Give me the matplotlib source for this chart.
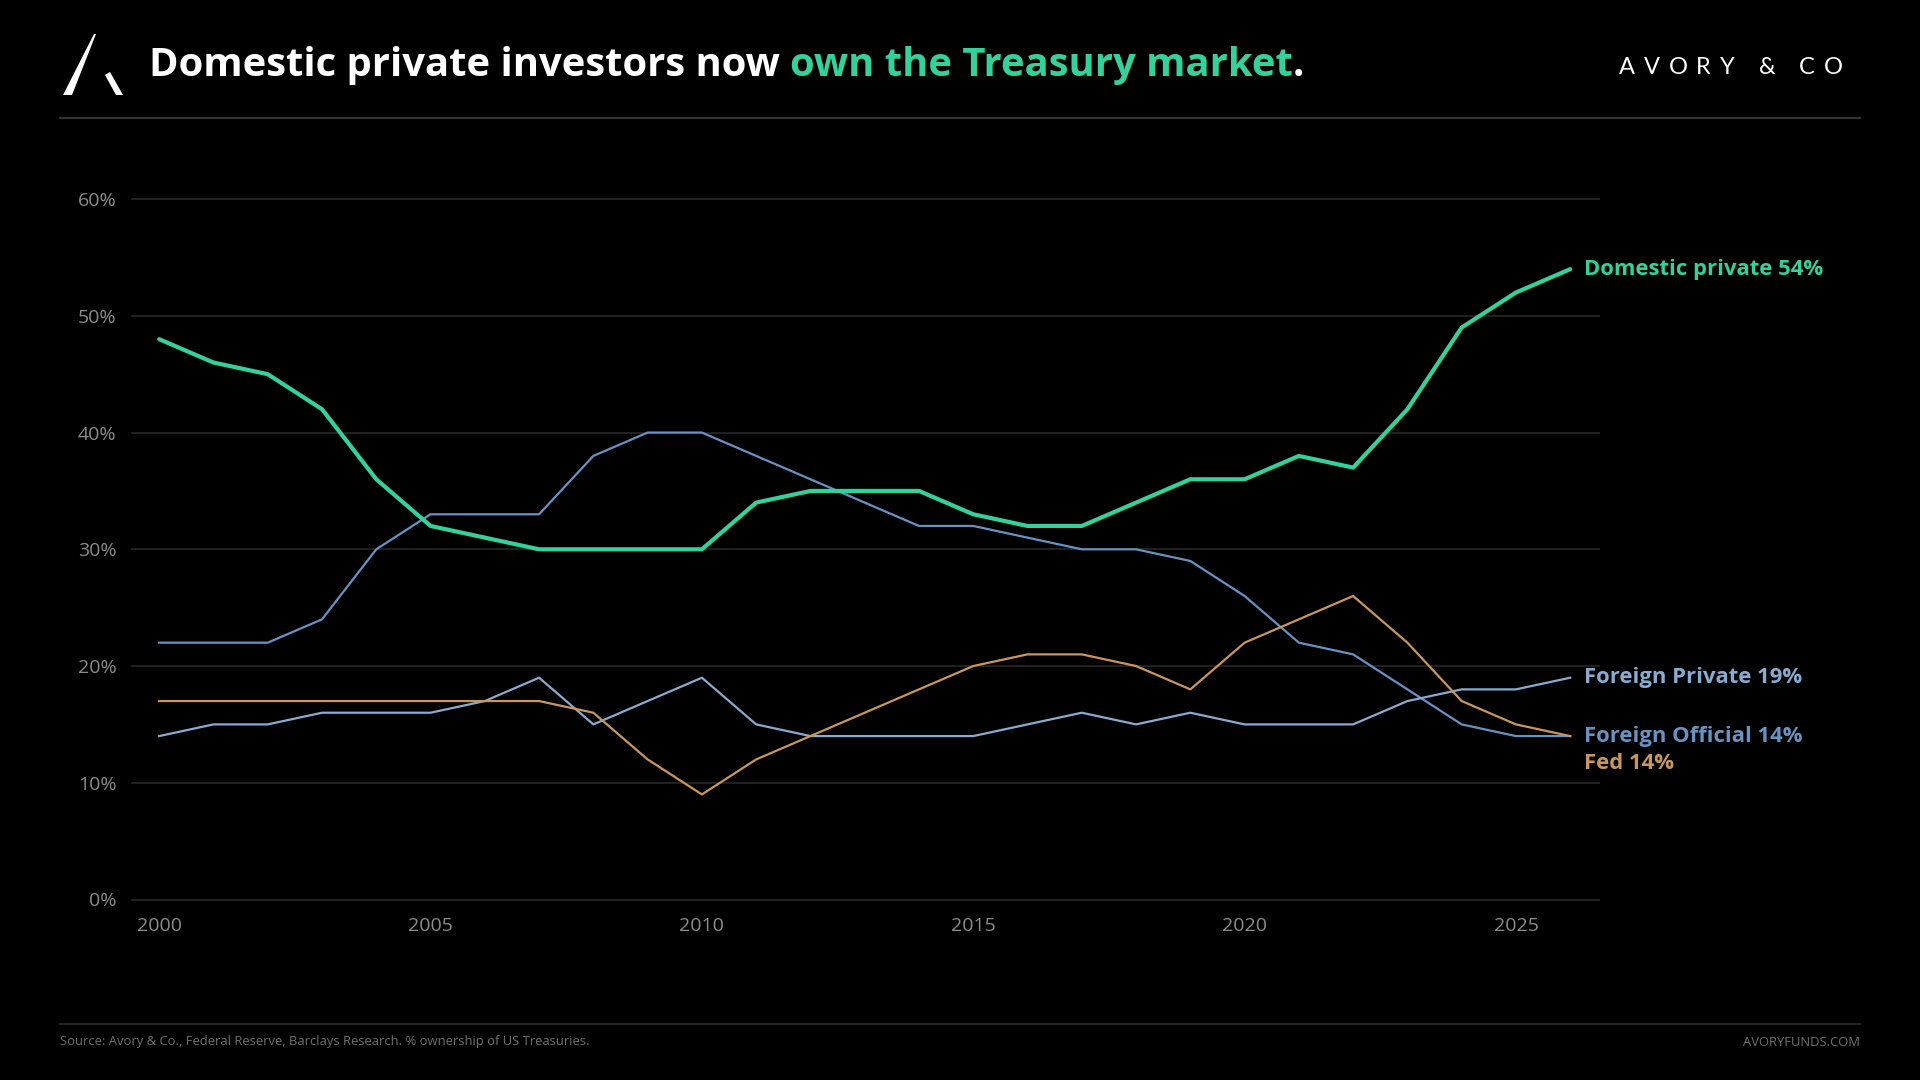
import matplotlib
matplotlib.use("Agg")
import matplotlib.pyplot as plt
from matplotlib.patches import Polygon
from matplotlib.lines import Line2D

# ---------------- data ----------------
years = list(range(2000, 2027))
domestic_private = [48, 46, 45, 42, 36, 32, 31, 30, 30, 30, 30, 34, 35, 35, 35, 33, 32, 32, 34, 36, 36, 38, 37, 42, 49, 52, 54]
foreign_official = [22, 22, 22, 24, 30, 33, 33, 33, 38, 40, 40, 38, 36, 34, 32, 32, 31, 30, 30, 29, 26, 22, 21, 18, 15, 14, 14]
foreign_private = [14, 15, 15, 16, 16, 16, 17, 19, 15, 17, 19, 15, 14, 14, 14, 14, 15, 16, 15, 16, 15, 15, 15, 17, 18, 18, 19]
fed = [17, 17, 17, 17, 17, 17, 17, 17, 16, 12, 9, 12, 14, 16, 18, 20, 21, 21, 20, 18, 22, 24, 26, 22, 17, 15, 14]

y_ticks = [0, 10, 20, 30, 40, 50, 60]
x_ticks = [2000, 2005, 2010, 2015, 2020, 2025]

title_white = "Domestic private investors now "
title_green = "own the Treasury market"
title_end = "."
brand = "AVORY & CO"
source_text = "Source: Avory & Co., Federal Reserve, Barclays Research. % ownership of US Treasuries."
site_text = "AVORYFUNDS.COM"

GREEN = "#33d19c"
FP_BLUE = "#88abcf"
FO_BLUE = "#6892c2"
FED = "#c9965c"
BG = "#000000"

W, H = 1920, 1080
fig = plt.figure(figsize=(19.2, 10.8), dpi=100, facecolor=BG)

def fx(px):
    return px / W

def fy(py):
    return 1 - py / H

# ---------------- axes ----------------
unit = (898.8 - 198.4) / 60 / H
ylo, yhi = -1, 62
x_left = fx(159.2 - 0.52 * 54.27)
x_right = fx(159.2 + 26.55 * 54.27)
bottom = fy(899.5) - (0 - ylo) * unit
ax = fig.add_axes([x_left, bottom, x_right - x_left, (yhi - ylo) * unit])
ax.set_facecolor(BG)
ax.set_xlim(1999.48, 2026.55)
ax.set_ylim(ylo, yhi)
for s in ax.spines.values():
    s.set_visible(False)
ax.set_yticks(y_ticks)
ax.set_yticklabels([f"{v}%" for v in y_ticks])
ax.set_xticks(x_ticks)
ax.set_xticklabels([str(v) for v in x_ticks])
ax.tick_params(axis="both", length=0, colors="#8c8c8c", labelsize=14)
ax.tick_params(axis="y", pad=10.3)
ax.tick_params(axis="x", pad=4)
for lab in ax.get_xticklabels() + ax.get_yticklabels():
    lab.set_fontfamily("Open Sans")
ax.grid(axis="y", color="#2a2a2a", linewidth=1.1)
ax.grid(axis="x", visible=False)
ax.set_axisbelow(True)

ax.plot(years, foreign_official, color=FO_BLUE, lw=1.6, solid_joinstyle="round")
ax.plot(years, foreign_private, color=FP_BLUE, lw=1.6, solid_joinstyle="round")
ax.plot(years, fed, color=FED, lw=1.6, solid_joinstyle="round")
ax.plot(years, domestic_private, color=GREEN, lw=3.0, solid_joinstyle="round", solid_capstyle="round")

lab_kw = dict(textcoords="offset points", va="center", ha="left", fontsize=15.8,
              fontweight="bold", family="Open Sans", annotation_clip=False)
ax.annotate(f"Domestic private {domestic_private[-1]}%", (years[-1], domestic_private[-1]),
            xytext=(10, 0), color=GREEN, **lab_kw)
ax.annotate(f"Foreign Private {foreign_private[-1]}%", (years[-1], foreign_private[-1]),
            xytext=(10, 0), color=FP_BLUE, **lab_kw)
ax.annotate(f"Foreign Official {foreign_official[-1]}%", (years[-1], foreign_official[-1]),
            xytext=(10, 0), color=FO_BLUE, **lab_kw)
ax.annotate(f"Fed {fed[-1]}%", (years[-1], fed[-1]),
            xytext=(10, -20), color=FED, **lab_kw)

# ---------------- header ----------------
fig.add_artist(Polygon([(fx(63), fy(95)), (fx(72), fy(95)), (fx(96), fy(34)), (fx(94), fy(34))],
                       closed=True, transform=fig.transFigure, color="white", lw=0))
fig.add_artist(Polygon([(fx(105), fy(75)), (fx(110), fy(72)), (fx(123), fy(95)), (fx(116), fy(95))],
                       closed=True, transform=fig.transFigure, color="white", lw=0))

fig.canvas.draw()
renderer = fig.canvas.get_renderer()
tkw = dict(fontsize=28.8, fontweight="bold", family="Open Sans", va="center", ha="left")
x = fx(149)
ty = fy(65.5)
for part, col in [(title_white, "white"), (title_green, GREEN), (title_end, "white")]:
    t = fig.text(x, ty, part, color=col, **tkw)
    bb = t.get_window_extent(renderer)
    x = x + bb.width / W

# brand with letter spacing
bkw = dict(fontsize=17, family="Lato", color="white", va="center", ha="left")
widths = []
for ch in brand:
    t = fig.text(0, 0, ch if ch != " " else "a", **bkw)
    w = t.get_window_extent(renderer).width
    if ch == " ":
        w *= 0.55
    widths.append(w)
    t.remove()
target = 1843 - 1619
track = (target - sum(widths)) / (len(brand) - 1)
bx = 1619
for ch, w in zip(brand, widths):
    if ch != " ":
        fig.text(fx(bx), fy(67), ch, **bkw)
    bx += w + track

fig.add_artist(Line2D([fx(60), fx(1860)], [fy(117.5), fy(117.5)], transform=fig.transFigure,
                      color="#333333", lw=1.5))
fig.add_artist(Line2D([fx(60), fx(1860)], [fy(1024), fy(1024)], transform=fig.transFigure,
                      color="#262626", lw=1.5))

fig.text(fx(60), fy(1042), source_text, color="#707070", fontsize=9.35, family="Open Sans",
         va="center", ha="left")
fig.text(fx(1860), fy(1042), site_text, color="#707070", fontsize=9.35, family="Open Sans",
         va="center", ha="right")

fig.savefig("out.png", dpi=100, facecolor=BG)
